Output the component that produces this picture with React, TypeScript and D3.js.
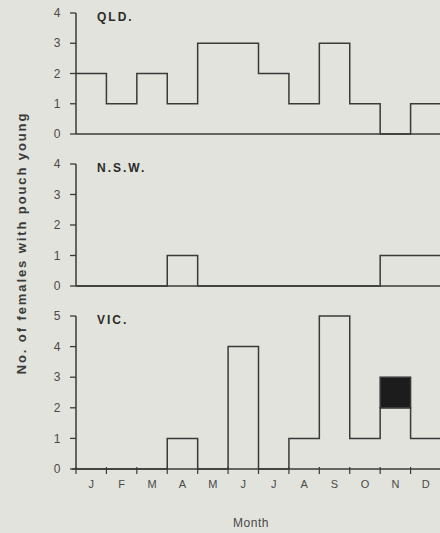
import React from 'react'
import * as d3 from 'd3'

const months = ['J', 'F', 'M', 'A', 'M', 'J', 'J', 'A', 'S', 'O', 'N', 'D']

const qldCounts = [2, 1, 2, 1, 3, 3, 2, 1, 3, 1, 0, 1]
const nswCounts = [0, 0, 0, 1, 0, 0, 0, 0, 0, 0, 1, 1]
const vicCounts = [0, 0, 0, 1, 0, 4, 0, 1, 5, 1, 2, 1]
// extra (filled) young in VIC, stacked on top of the open bars
const vicFilled = [0, 0, 0, 0, 0, 0, 0, 0, 0, 0, 1, 0]

const panels = [
  { label: 'QLD.', counts: qldCounts, filled: null, max: 4, top: 13, bottom: 134, xAxis: false },
  { label: 'N.S.W.', counts: nswCounts, filled: null, max: 4, top: 164, bottom: 286, xAxis: false },
  { label: 'VIC.', counts: vicCounts, filled: vicFilled, max: 5, top: 316, bottom: 469, xAxis: true },
]

const W = 440
const H = 533
const left = 76
const right = 441
const ink = '#3a3a38'
const textInk = '#4a4a48'

export default function App() {
  const idx = d3.range(months.length)
  const x = d3.scaleLinear().domain([0, months.length]).range([left, right])

  return (
    <svg width={W} height={H} style={{ position: 'absolute', left: 0, top: 0, background: '#e2e3dd' }}
      fontFamily="'Liberation Sans', Arial, sans-serif">
      <rect width={W} height={H} fill="#e2e3dd" />
      {panels.map((p) => {
        const y = d3.scaleLinear().domain([0, p.max]).range([p.bottom, p.top])
        const pts: [number, number][] = idx.map((i) => [x(i), p.counts[i]])
        pts.push([x(months.length), p.counts[months.length - 1]])
        pts.push([x(months.length), 0])
        const line = d3.line<[number, number]>()
          .x((d) => d[0])
          .y((d) => y(d[1]))
          .curve(d3.curveStepAfter)
        const ticks = d3.range(0, p.max + 1)
        return (
          <g key={p.label}>
            {/* filled part */}
            {p.filled && idx.filter((i) => p.filled![i] > 0).map((i) => (
              <rect key={i} x={x(i)} width={x(i + 1) - x(i)}
                y={y(p.counts[i] + p.filled![i])}
                height={y(p.counts[i]) - y(p.counts[i] + p.filled![i])}
                fill="#1c1c1c" stroke={ink} strokeWidth={1.5} />
            ))}
            <path d={line(pts) || ''} fill="none" stroke={ink} strokeWidth={1.5} />
            {/* baseline */}
            <line x1={p.xAxis ? left - 4 : left} x2={right} y1={y(0)} y2={y(0)} stroke={ink} strokeWidth={1.6} />
            {/* y axis */}
            <line x1={left} x2={left} y1={y(0)} y2={y(p.max)} stroke={ink} strokeWidth={1.5} />
            {ticks.map((t) => (
              <g key={t}>
                <line x1={left - 6} x2={left} y1={y(t)} y2={y(t)} stroke={ink} strokeWidth={1.3} />
                <text x={57} y={y(t)} dy="0.35em" textAnchor="middle" fontSize={12} fill={textInk}
                  fontWeight={300}>{t}</text>
              </g>
            ))}
            <text x={97} y={p.top + 4} dy="0.35em" fontSize={12} fontWeight="bold" fill="#2a2a28"
              letterSpacing={2}>{p.label}</text>
            {p.xAxis && (
              <g>
                {d3.range(0, months.length + 1).map((i) => (
                  <line key={i} x1={x(i)} x2={x(i)} y1={y(0) - 2} y2={y(0) + 5} stroke={ink} strokeWidth={1.2} />
                ))}
                {months.map((m, i) => (
                  <text key={i} x={(x(i) + x(i + 1)) / 2} y={y(0) + 15} dy="0.35em" textAnchor="middle"
                    fontSize={11} fill={textInk}>{m}</text>
                ))}
              </g>
            )}
          </g>
        )
      })}
      <text transform={`translate(21,${243}) rotate(-90)`} dy="0.35em" textAnchor="middle" fontSize={13}
        fontWeight="bold" fill="#3a3a38" letterSpacing={1.9}>No. of females with pouch young</text>
      <text x={251} y={523} dy="0.35em" textAnchor="middle" fontSize={12} fill={textInk}
        letterSpacing={0.5}>Month</text>
    </svg>
  )
}
